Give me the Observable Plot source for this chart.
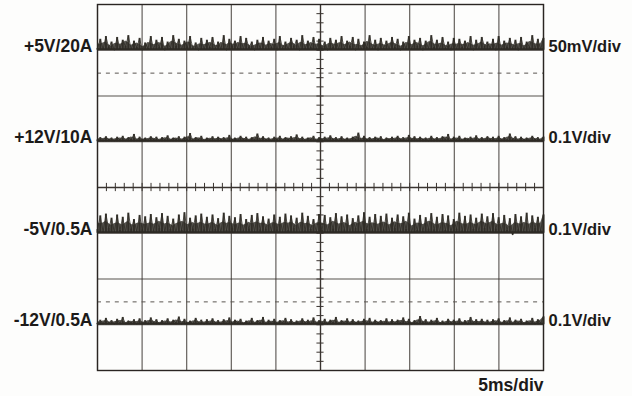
<!DOCTYPE html>
<html>
<head>
<meta charset="utf-8">
<script src="https://cdn.jsdelivr.net/npm/d3@7"></script>
<script src="https://cdn.jsdelivr.net/npm/@observablehq/plot@0.6"></script>
<style>
  html, body { margin: 0; padding: 0; background: #fdfdfc; }
  #chart svg { display: block; }
</style>
</head>
<body>
<div id="chart"></div>
<script>
// ---- channel definitions ----
const channelNames = ["+5V/20A", "+12V/10A", "-5V/0.5A", "-12V/0.5A"];
const scaleLabels  = ["50mV/div", "0.1V/div", "0.1V/div", "0.1V/div"];
const mVPerDiv     = [50, 100, 100, 100];
const groundDiv    = [3, 1, -1, -3];        // channel reference position, in divisions
const timeLabel    = "5ms/div";
const msPerDiv     = 5;
const divisionsX   = [0,1,2,3,4,5,6,7,8,9,10];
const divisionsY   = [-4,-3,-2,-1,0,1,2,3,4];
const halfDivLines = [2.5, -2.5];

const ripple5V = [
  2,12,1,15,3,9,0,14,2,11,4,16,1,10,3,13,0,8,2,15,
  1,11,3,14,0,9,2,16,4,12,1,10,3,15,2,8,0,13,1,11,
  3,14,2,9,1,16,0,12,4,10,2,15,1,13,3,9,0,11,2,14,
  1,10,3,12,0,15,2,9,1,13,4,11,0,16,2,10,3,14,1,12,
  2,9,0,13,3,11,1,15,2,10,4,14,0,12,1,9,3,16,2,11,
  0,13,2,10,1,14,3,12,0,9,2,15,1,11,4,13,0,10,2,16,
  3,11,1,14,2,9,0,13,1,12,3,10,2,15,0,11,1,14,4,9,
  2,12,0,15,1,10,3,13,2,11,0,14,1,9,3,16,2,12,1,13
];
const ripple12V = [
  4,9,3,11,5,8,2,10,4,12,3,9,5,16,2,10,4,8,3,11,
  5,10,2,9,4,13,3,8,5,11,2,10,4,18,3,9,5,12,2,8,
  4,11,3,10,5,9,2,14,4,8,3,12,5,10,2,9,4,17,3,11,
  5,8,2,10,4,12,3,9,5,11,2,15,4,10,3,8,5,12,2,9,
  4,10,3,13,5,9,2,11,4,8,3,10,5,19,2,12,4,9,3,10,
  5,11,2,8,4,10,3,12,5,9,2,14,4,11,3,10,5,8,2,12,
  4,9,3,11,5,16,2,10,4,12,3,8,5,10,2,13,4,9,3,11,
  5,10,2,12,4,9,3,17,5,11,2,10,4,8,3,12,5,9,2,10
];
const rippleN5V = [
  8,38,3,42,10,33,2,40,6,35,1,44,9,30,4,39,7,36,2,41,
  5,34,10,43,3,37,8,31,1,40,6,45,4,33,9,38,2,42,7,35,
  3,40,8,32,1,44,6,37,10,34,2,41,5,30,9,39,3,43,7,36,
  9,31,4,40,7,35,2,42,6,38,10,33,1,44,5,37,8,30,3,41,
  6,39,2,34,9,43,4,36,7,40,1,32,10,38,3,45,8,35,5,41,
  2,37,7,42,3,33,10,40,5,36,8,44,1,31,6,39,4,34,9,43,
  7,35,1,41,6,38,3,30,9,44,5,37,2,40,8,33,4,42,10,36,
  4,43,9,34,2,39,6,32,-4,41,7,36,3,44,1,38,10,35,5,40
];
const rippleN12V = [
  3,10,2,14,4,9,1,12,3,16,2,8,4,11,1,13,3,9,2,15,
  4,11,1,9,3,13,2,10,4,17,1,12,3,8,2,14,4,10,1,11,
  2,13,4,9,1,11,3,15,2,10,4,12,1,8,3,14,2,9,4,16,
  1,10,3,12,2,9,4,14,1,11,3,8,2,13,4,10,1,15,3,9,
  3,12,1,10,4,16,2,9,3,13,1,11,4,8,2,12,3,14,1,10,
  4,9,2,13,1,11,3,10,4,15,2,12,1,9,3,18,4,11,2,10,
  2,14,3,8,1,12,4,10,2,13,3,9,1,16,4,11,2,12,3,10,
  1,11,4,13,2,9,3,15,1,10,4,12,2,8,3,14,1,11,4,17
];
const rippleSeries = [ripple5V, ripple12V, rippleN5V, rippleN12V];

// ---- build table ----
const totalMs = msPerDiv * (divisionsX.length - 1);
const traces = [];
rippleSeries.forEach((arr, c) => {
  arr.forEach((mv, i) => {
    traces.push({
      ch: channelNames[c],
      t: i * totalMs / (arr.length - 1),
      g: groundDiv[c],
      v: groundDiv[c] + mv / mVPerDiv[c]
    });
  });
});
const labels = channelNames.map((name, c) => ({name, scale: scaleLabels[c], y: groundDiv[c]}));

// minor ticks every 0.2 division on the centre axes
const minorX = d3.range(0, totalMs + 0.001, msPerDiv / 5);
const minorY = d3.range(-4, 4.001, 0.2);

const gridColor = "#3a3430";
const traceColor = "#2d2a24";
const font = "'Liberation Sans', Arial, Helvetica, sans-serif";

const chart = Plot.plot({
  width: 632,
  height: 396,
  marginLeft: 97,
  marginRight: 89,
  marginTop: 4,
  marginBottom: 26,
  x: {domain: [0, totalMs], axis: null},
  y: {domain: [-4, 4], axis: null},
  style: {background: "#fdfdfc", fontFamily: font},
  marks: [
    // grid
    Plot.ruleX(divisionsX.map(d => d * msPerDiv), {stroke: gridColor, strokeWidth: 1.1, strokeOpacity: 0.85}),
    Plot.ruleY(divisionsY, {stroke: gridColor, strokeWidth: 1.1, strokeOpacity: 0.85}),
    Plot.ruleY(halfDivLines, {stroke: "#5a5550", strokeWidth: 1, strokeDasharray: "4,4.9"}),
    // centre-axis minor ticks
    Plot.ruleX(minorX, {y1: -0.09, y2: 0.09, stroke: gridColor, strokeWidth: 1}),
    Plot.ruleY(minorY, {x1: totalMs / 2 - 0.4, x2: totalMs / 2 + 0.4, stroke: gridColor, strokeWidth: 1}),
    Plot.ruleX([totalMs / 2], {stroke: gridColor, strokeWidth: 1.3}),
    Plot.ruleY([0], {stroke: gridColor, strokeWidth: 1.3}),
    // frame
    Plot.frame({stroke: "#2a2522", strokeWidth: 1.4}),
    // traces: dense body, vertical noise spikes, connecting trace
    Plot.areaY(traces, Plot.windowY({k: 2, reduce: "mean"}, {x: "t", y1: "g", y2: "v", z: "ch",
      fill: traceColor, fillOpacity: 0.8})),
    Plot.ruleX(traces, {x: "t", y1: "g", y2: "v", stroke: traceColor, strokeWidth: 2, strokeOpacity: 0.9}),
    Plot.lineY(traces, {x: "t", y: "v", z: "ch", stroke: traceColor, strokeWidth: 0.9, strokeOpacity: 0.85}),
    Plot.ruleY(groundDiv, {y: d => d + 0.02, stroke: traceColor, strokeWidth: 2}),
    // labels
    Plot.text(labels, {x: 0, y: "y", text: "name", textAnchor: "end", dx: -5, dy: -4,
      fontSize: 17.5, fontWeight: "bold", fill: "#1c1a19"}),
    Plot.text(labels, {x: totalMs, y: "y", text: "scale", textAnchor: "start", dx: 5, dy: -4,
      fontSize: 16.5, fontWeight: "bold", fill: "#1c1a19"}),
    Plot.text([timeLabel], {x: totalMs, y: -4, text: d => d, textAnchor: "end", dy: 15,
      fontSize: 17.5, fontWeight: "bold", fill: "#1c1a19"})
  ]
});
document.getElementById("chart").append(chart);
</script>
</body>
</html>
